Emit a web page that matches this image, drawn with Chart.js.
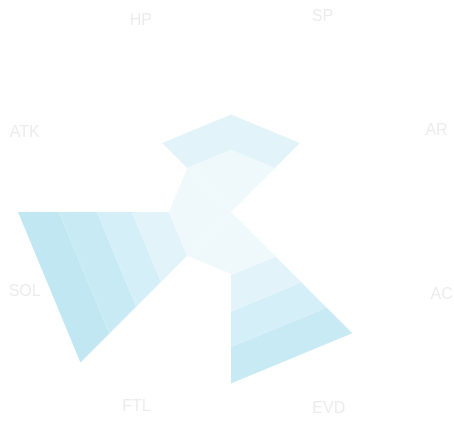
<!DOCTYPE html>
<html>
<head>
<meta charset="utf-8">
<script src="https://cdn.jsdelivr.net/npm/chart.js"></script>
<style>
  html, body { margin: 0; padding: 0; background: #ffffff; overflow: hidden; }
  #wrap { width: 454px; height: 427px; }
</style>
</head>
<body>
<div id="wrap"><canvas id="c" width="454" height="427"></canvas></div>
<script>
// ---- data ----
const categories = ['HP', 'SP', 'AR', 'AC', 'EVD', 'FTL', 'SOL', 'ATK'];
// stacked segment values per category, innermost band first
const band1 = [62, 62, 0, 0, 63, 62, 62, 62];
const band2 = [35.5, 35.5, 0, 0, 36.5, 0, 37, 0];
const band3 = [0, 0, 0, 0, 35.5, 0, 35, 0];
const band4 = [0, 0, 0, 0, 36.5, 0, 38, 0];
const band5 = [0, 0, 0, 0, 0, 0, 41, 0];
const scaleMax = 212;

// ---- styles ----
const bandColors = ['#eff9fc', '#e2f4f9', '#d4eff7', '#c8eaf4', '#c1e7f2'];
const labelPad = [-5.5, -1, -1.6, 4, 0.6, -2, -6, -5];

// ---- build one polygon "bar" per category and band ----
const bands = [band1, band2, band3, band4, band5];
const n = categories.length;
const datasets = [];
categories.forEach((cat, i) => {
  let total = 0;
  bands.forEach((band, j) => {
    const v = band[i];
    if (!v) return;
    total += v;
    const data = new Array(n).fill(0);
    data[i] = total;
    data[(i + 1) % n] = total;
    datasets.push({
      label: cat + ' ' + (j + 1),
      data: data,
      backgroundColor: bandColors[j],
      borderWidth: 0,
      pointRadius: 0,
      pointHoverRadius: 0,
      fill: j === 0 ? 'origin' : '-1'
    });
  });
});

new Chart(document.getElementById('c'), {
  type: 'radar',
  data: { labels: categories, datasets: datasets },
  options: {
    responsive: false,
    animation: false,
    devicePixelRatio: 1,
    layout: { padding: { left: 8, right: 0, top: 0, bottom: 2 } },
    plugins: { legend: { display: false }, tooltip: { enabled: false } },
    elements: { line: { tension: 0 } },
    scales: {
      r: {
        min: 0,
        max: scaleMax,
        startAngle: -45,
        grid: { display: false },
        angleLines: { display: false },
        ticks: { display: false },
        pointLabels: {
          display: true,
          centerPointLabels: true,
          color: '#ececec',
          font: { family: "'Liberation Sans', Arial, sans-serif", size: 16, lineHeight: 0.05 },
          padding: (ctx) => labelPad[ctx.index]
        }
      }
    }
  }
});
</script>
</body>
</html>
